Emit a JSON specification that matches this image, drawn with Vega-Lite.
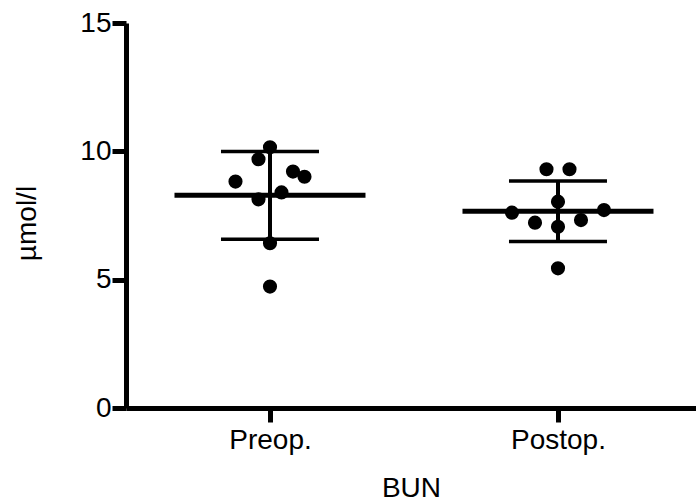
{
  "$schema": "https://vega.github.io/schema/vega-lite/v6.json",
  "width": 570,
  "height": 385,
  "autosize": "none",
  "padding": {"left": 126, "top": 23, "right": 0, "bottom": 96},
  "config": {
    "view": {"stroke": null},
    "font": "Liberation Sans",
    "axis": {
      "domainColor": "black",
      "domainWidth": 5,
      "domainCap": "butt",
      "tickColor": "black",
      "tickWidth": 5,
      "tickSize": 14,
      "labelColor": "black",
      "labelFont": "Liberation Sans",
      "labelFontSize": 28,
      "titleFont": "Liberation Sans",
      "titleFontSize": 28,
      "titleFontWeight": "normal",
      "titleColor": "black",
      "grid": false
    }
  },
  "data": {
    "values": [
      {"group": "Preop.", "value": 10.16, "col": 0},
      {"group": "Preop.", "value": 9.69, "col": -1},
      {"group": "Preop.", "value": 9.21, "col": 2},
      {"group": "Preop.", "value": 9.01, "col": 3},
      {"group": "Preop.", "value": 8.82, "col": -3},
      {"group": "Preop.", "value": 8.40, "col": 1},
      {"group": "Preop.", "value": 8.13, "col": -1},
      {"group": "Preop.", "value": 6.42, "col": 0},
      {"group": "Preop.", "value": 4.73, "col": 0},
      {"group": "Postop.", "value": 9.30, "col": -1},
      {"group": "Postop.", "value": 9.30, "col": 1},
      {"group": "Postop.", "value": 8.04, "col": 0},
      {"group": "Postop.", "value": 7.61, "col": -4},
      {"group": "Postop.", "value": 7.71, "col": 4},
      {"group": "Postop.", "value": 7.22, "col": -2},
      {"group": "Postop.", "value": 7.32, "col": 2},
      {"group": "Postop.", "value": 7.06, "col": 0},
      {"group": "Postop.", "value": 5.44, "col": 0}
    ]
  },
  "encoding": {
    "x": {
      "field": "group",
      "type": "nominal",
      "sort": ["Preop.", "Postop."],
      "scale": {"type": "point", "padding": 0.4896, "align": 0.5106},
      "axis": {"title": "BUN", "labelAngle": 0, "labelPadding": 4, "titlePadding": 20}
    }
  },
  "layer": [
    {
      "mark": {
        "type": "errorbar",
        "extent": "stdev",
        "color": "black",
        "ticks": {"size": 98, "thickness": 3.5, "color": "black", "opacity": 1},
        "rule": {"strokeWidth": 4, "color": "black", "opacity": 1}
      },
      "encoding": {
        "y": {
          "field": "value",
          "type": "quantitative",
          "scale": {"domain": [0, 15], "nice": false, "zero": true},
          "axis": {"title": "µmol/l", "values": [0, 5, 10, 15], "labelPadding": 1, "titlePadding": 38, "titleY": 200}
        }
      }
    },
    {
      "mark": {"type": "tick", "size": 191, "thickness": 5, "color": "black", "opacity": 1, "orient": "horizontal"},
      "encoding": {
        "y": {
          "aggregate": "mean",
          "field": "value",
          "type": "quantitative",
          "scale": {"domain": [0, 15], "nice": false, "zero": true},
          "axis": {"title": "µmol/l", "values": [0, 5, 10, 15], "labelPadding": 1, "titlePadding": 38, "titleY": 200}
        }
      }
    },
    {
      "mark": {"type": "circle", "size": 200, "opacity": 1, "color": "black"},
      "encoding": {
        "y": {
          "field": "value",
          "type": "quantitative",
          "scale": {"domain": [0, 15], "nice": false, "zero": true},
          "axis": {"title": "µmol/l", "values": [0, 5, 10, 15], "labelPadding": 1, "titlePadding": 38, "titleY": 200}
        },
        "xOffset": {
          "field": "col",
          "type": "quantitative",
          "scale": {"domain": [-4, 4], "range": [-46, 46]}
        }
      }
    }
  ]
}
